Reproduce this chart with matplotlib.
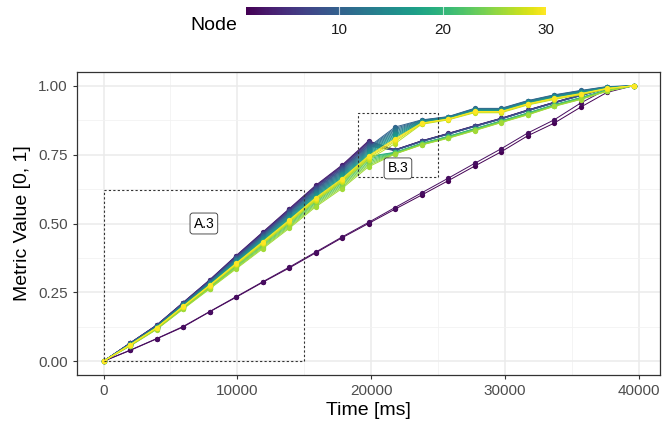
import numpy as np
import matplotlib
matplotlib.use('Agg')
import matplotlib.pyplot as plt
from matplotlib.ticker import MultipleLocator
from matplotlib.colors import Normalize
from matplotlib.patches import Rectangle

plt.rcParams['font.family'] = ['Liberation Sans', 'DejaVu Sans']

# Sample times (ms)
tiempos = [0, 1980, 3960, 5940, 7920, 9900, 11880, 13860, 15840, 17820, 19800,
           21780, 23760, 25740, 27720, 29700, 31680, 33660, 35640, 37620, 39600]

# Nodes 1 and 2 (near-linear pair)
nodo1 = [0, 0.039, 0.081, 0.124, 0.179, 0.232, 0.286, 0.338, 0.393, 0.448, 0.500,
         0.552, 0.603, 0.655, 0.708, 0.760, 0.818, 0.864, 0.922, 0.976, 1.0]
nodo2 = [0, 0.040, 0.082, 0.126, 0.180, 0.234, 0.288, 0.341, 0.396, 0.451, 0.504,
         0.558, 0.611, 0.664, 0.718, 0.771, 0.828, 0.876, 0.937, 0.988, 1.0]

# Envelope of the fan of nodes 3..30, upper branch (top/bottom)
sup_alto = [0, 0.066, 0.131, 0.213, 0.295, 0.383, 0.468, 0.553, 0.638, 0.712, 0.800,
            0.850, 0.876, 0.888, 0.918, 0.918, 0.946, 0.967, 0.983, 0.997, 1.0]
sup_bajo = [0, 0.055, 0.115, 0.189, 0.262, 0.335, 0.408, 0.482, 0.560, 0.627, 0.706,
            0.790, 0.860, 0.876, 0.902, 0.902, 0.930, 0.950, 0.967, 0.988, 1.0]
# lower branch (top/bottom)
inf_alto = [0, 0.066, 0.131, 0.213, 0.295, 0.383, 0.468, 0.553, 0.638, 0.712, 0.800,
            0.768, 0.800, 0.827, 0.855, 0.882, 0.912, 0.940, 0.967, 0.992, 1.0]
inf_bajo = [0, 0.055, 0.115, 0.189, 0.262, 0.335, 0.408, 0.482, 0.560, 0.627, 0.706,
            0.752, 0.785, 0.809, 0.837, 0.866, 0.894, 0.925, 0.950, 0.980, 1.0]

# Nodes 3..30: position inside the fan (0 = top, 1 = bottom) and branch (1 = upper)
nodos_fan = list(range(3, 31))
rango = [0.0, 0.03, 0.06, 0.10, 0.13, 0.17, 0.20, 0.24, 0.28, 0.32, 0.36, 0.40, 0.44, 0.48,
         0.52, 0.56, 0.60, 0.64, 0.70, 0.76, 0.82, 0.88, 0.94, 1.0, 0.72, 0.66, 0.62, 0.58]
rama = [0, 0, 0, 0, 0, 0, 0, 1, 1, 1, 1, 1, 1, 1,
        1, 1, 0, 0, 0, 0, 0, 0, 0, 0, 1, 1, 1, 1]

fig = plt.figure(figsize=(6.62, 4.26), dpi=100)
ax = fig.add_axes([77 / 662, 51 / 426, 583 / 662, 303 / 426])

cmap = plt.get_cmap('viridis')
norm = Normalize(vmin=1, vmax=30)

# Grid (theme_bw style)
ax.set_xlim(-1980, 41580)
ax.set_ylim(-0.05, 1.05)
ax.xaxis.set_major_locator(MultipleLocator(10000))
ax.xaxis.set_minor_locator(MultipleLocator(5000))
ax.yaxis.set_major_locator(MultipleLocator(0.25))
ax.yaxis.set_minor_locator(MultipleLocator(0.125))
ax.grid(which='major', color='#EBEBEB', linewidth=1.1)
ax.grid(which='minor', color='#F2F2F2', linewidth=0.6)
ax.set_axisbelow(True)
for s in ax.spines.values():
    s.set_color('#333333')
    s.set_linewidth(0.9)
ax.tick_params(which='major', length=3, color='#333333', labelsize=11, labelcolor='#4D4D4D')
ax.tick_params(which='minor', length=0)
ax.yaxis.set_major_formatter(matplotlib.ticker.FormatStrFormatter('%.2f'))

t = np.array(tiempos)
estilo = dict(linewidth=0.7, marker='o', markersize=3.8, markeredgewidth=0)

ax.plot(t, nodo1, color=cmap(norm(1)), zorder=3, **estilo)
ax.plot(t, nodo2, color=cmap(norm(2)), zorder=3, **estilo)

rango = np.array(rango)
rama = np.array(rama)
for k, nodo in enumerate(nodos_fan):
    if rama[k] == 1:
        alto, bajo = np.array(sup_alto), np.array(sup_bajo)
    else:
        alto, bajo = np.array(inf_alto), np.array(inf_bajo)
    # posicion dentro de su rama para la parte final
    r_rama = rango[rama == rama[k]]
    r = (rango[k] - r_rama.min()) / (r_rama.max() - r_rama.min())
    valores = np.where(np.arange(len(t)) <= 10,
                       alto - rango[k] * (alto - bajo),
                       alto - r * (alto - bajo))
    ax.plot(t, valores, color=cmap(norm(nodo)), zorder=3 + k * 0.01, **estilo)

# Highlight boxes
ax.add_patch(Rectangle((0, 0), 15000, 0.62, fill=False, linestyle=(0, (2, 2)),
                       linewidth=0.8, edgecolor='#333333', zorder=5))
ax.add_patch(Rectangle((19000, 0.67), 6000, 0.23, fill=False, linestyle=(0, (2, 2)),
                       linewidth=0.8, edgecolor='#333333', zorder=5))
caja = dict(boxstyle='round,pad=0.25,rounding_size=0.2', facecolor='white',
            edgecolor='#333333', linewidth=0.6)
ax.text(7500, 0.5, 'A.3', ha='center', va='center', fontsize=10, bbox=caja, zorder=6)
ax.text(22000, 0.70, 'B.3', ha='center', va='center', fontsize=10, bbox=caja, zorder=6)

ax.set_xlabel('Time [ms]', fontsize=14, labelpad=3)
ax.set_ylabel('Metric Value [0, 1]', fontsize=14, labelpad=5)

# Colour bar legend at the top
cax = fig.add_axes([246 / 662, (426 - 15) / 426, 300 / 662, 8 / 426])
grad = np.linspace(1, 30, 300).reshape(1, -1)
cax.imshow(grad, aspect='auto', cmap=cmap, norm=norm, extent=(1, 30, 0, 1))
cax.set_xlim(1, 30)
cax.set_yticks([])
cax.set_xticks([10, 20, 30])
cax.tick_params(axis='x', length=0, labelsize=11, labelcolor='#1A1A1A', pad=6)
for v in [10, 20]:
    cax.axvline(v, color='white', linewidth=0.8, alpha=0.7)
for s in cax.spines.values():
    s.set_visible(False)
fig.text(237 / 662, 1 - 26 / 426, 'Node', ha='right', va='center', fontsize=14)

plt.savefig('out.png', dpi=100)
